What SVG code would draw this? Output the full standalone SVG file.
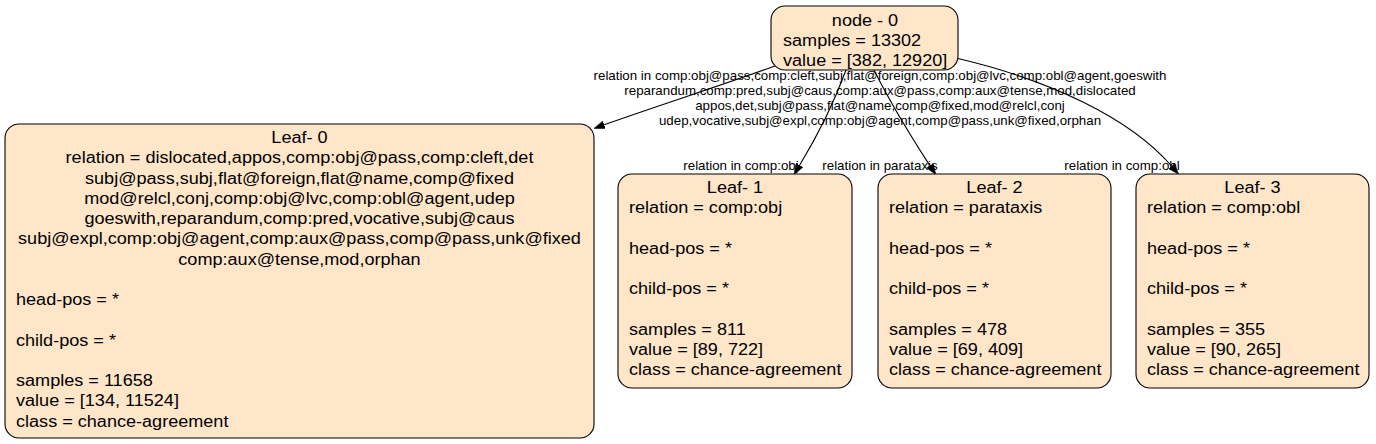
<svg xmlns="http://www.w3.org/2000/svg" width="1376" height="444" viewBox="0 0 1376 444">
<style>
.box { fill:#ffe6c9; stroke:#000; stroke-width:1.1 }
.t { font-family:"Liberation Sans", Arial, Helvetica, sans-serif; font-size:16px; fill:#000 }
.c { text-anchor:middle }
.e { font-family:"Liberation Sans", Arial, Helvetica, sans-serif; font-size:12px; fill:#000; text-anchor:middle }
.edge { fill:none; stroke:#000; stroke-width:1.1; marker-end:url(#arr) }
</style>
<defs>
<marker id="arr" markerUnits="userSpaceOnUse" viewBox="0 0 11 8" refX="0" refY="4" markerWidth="11" markerHeight="8" orient="auto">
<path d="M0,0 L11,4 L0,8 z" fill="#000" stroke="#000" stroke-width="0.5"/>
</marker>
</defs>
<rect width="1376" height="444" fill="#fff"/>
<g id="connectors">
<path class="edge" d="M775,66 C720,86 660,105 604.2,124.8"/>
<path class="edge" d="M846,70 C835,100 818,135 799.6,165.2"/>
<path class="edge" d="M874,70 C888,98 910,135 929.9,165.6"/>
<path class="edge" d="M956,58 C1050,80 1130,118 1171.5,166"/>
<text class="e" transform="translate(880,80.3) scale(1.11,1)">relation in comp:obj@pass,comp:cleft,subj,flat@foreign,comp:obj@lvc,comp:obl@agent,goeswith</text>
<text class="e" transform="translate(880,95.3) scale(1.11,1)">reparandum,comp:pred,subj@caus,comp:aux@pass,comp:aux@tense,mod,dislocated</text>
<text class="e" transform="translate(880,110.3) scale(1.11,1)">appos,det,subj@pass,flat@name,comp@fixed,mod@relcl,conj</text>
<text class="e" transform="translate(880,125.3) scale(1.11,1)">udep,vocative,subj@expl,comp:obj@agent,comp@pass,unk@fixed,orphan</text>
<text class="e" transform="translate(741,170.3) scale(1.11,1)">relation in comp:obj</text>
<text class="e" transform="translate(880,170.3) scale(1.11,1)">relation in parataxis</text>
<text class="e" transform="translate(1122,170.3) scale(1.11,1)">relation in comp:obl</text>
</g>
<g id="node-0">
<rect class="box" x="771" y="6" width="187" height="64" rx="14"/>
<text class="t c" transform="translate(865,25.5) scale(1.13,1)">node - 0</text>
<text class="t" transform="translate(783,45.75) scale(1.13,1)">samples = 13302</text>
<text class="t" transform="translate(783,66) scale(1.13,1)">value = [382, 12920]</text>
</g>
<g id="leaf-0">
<rect class="box" x="5" y="124" width="589" height="314" rx="14"/>
<text class="t c" transform="translate(299.5,143) scale(1.13,1)">Leaf- 0</text>
<text class="t c" transform="translate(299.5,163.25) scale(1.13,1)">relation = dislocated,appos,comp:obj@pass,comp:cleft,det</text>
<text class="t c" transform="translate(299.5,183.5) scale(1.13,1)">subj@pass,subj,flat@foreign,flat@name,comp@fixed</text>
<text class="t c" transform="translate(299.5,203.75) scale(1.13,1)">mod@relcl,conj,comp:obj@lvc,comp:obl@agent,udep</text>
<text class="t c" transform="translate(299.5,224) scale(1.13,1)">goeswith,reparandum,comp:pred,vocative,subj@caus</text>
<text class="t c" transform="translate(299.5,244.25) scale(1.13,1)">subj@expl,comp:obj@agent,comp:aux@pass,comp@pass,unk@fixed</text>
<text class="t c" transform="translate(299.5,264.5) scale(1.13,1)">comp:aux@tense,mod,orphan</text>
<text class="t" transform="translate(16,305) scale(1.13,1)">head-pos = *</text>
<text class="t" transform="translate(16,345.5) scale(1.13,1)">child-pos = *</text>
<text class="t" transform="translate(16,386) scale(1.13,1)">samples = 11658</text>
<text class="t" transform="translate(16,406.25) scale(1.13,1)">value = [134, 11524]</text>
<text class="t" transform="translate(16,426.5) scale(1.13,1)">class = chance-agreement</text>
</g>
<g id="leaf-1">
<rect class="box" x="618" y="174" width="234" height="214" rx="14"/>
<text class="t c" transform="translate(735,193) scale(1.13,1)">Leaf- 1</text>
<text class="t" transform="translate(629,213.25) scale(1.13,1)">relation = comp:obj</text>
<text class="t" transform="translate(629,253.75) scale(1.13,1)">head-pos = *</text>
<text class="t" transform="translate(629,294.25) scale(1.13,1)">child-pos = *</text>
<text class="t" transform="translate(629,334.75) scale(1.13,1)">samples = 811</text>
<text class="t" transform="translate(629,355) scale(1.13,1)">value = [89, 722]</text>
<text class="t" transform="translate(629,375.25) scale(1.13,1)">class = chance-agreement</text>
</g>
<g id="leaf-2">
<rect class="box" x="878" y="174" width="233" height="214" rx="14"/>
<text class="t c" transform="translate(994.5,193) scale(1.13,1)">Leaf- 2</text>
<text class="t" transform="translate(889,213.25) scale(1.13,1)">relation = parataxis</text>
<text class="t" transform="translate(889,253.75) scale(1.13,1)">head-pos = *</text>
<text class="t" transform="translate(889,294.25) scale(1.13,1)">child-pos = *</text>
<text class="t" transform="translate(889,334.75) scale(1.13,1)">samples = 478</text>
<text class="t" transform="translate(889,355) scale(1.13,1)">value = [69, 409]</text>
<text class="t" transform="translate(889,375.25) scale(1.13,1)">class = chance-agreement</text>
</g>
<g id="leaf-3">
<rect class="box" x="1136" y="174" width="233" height="214" rx="14"/>
<text class="t c" transform="translate(1252.5,193) scale(1.13,1)">Leaf- 3</text>
<text class="t" transform="translate(1147,213.25) scale(1.13,1)">relation = comp:obl</text>
<text class="t" transform="translate(1147,253.75) scale(1.13,1)">head-pos = *</text>
<text class="t" transform="translate(1147,294.25) scale(1.13,1)">child-pos = *</text>
<text class="t" transform="translate(1147,334.75) scale(1.13,1)">samples = 355</text>
<text class="t" transform="translate(1147,355) scale(1.13,1)">value = [90, 265]</text>
<text class="t" transform="translate(1147,375.25) scale(1.13,1)">class = chance-agreement</text>
</g>
</svg>
